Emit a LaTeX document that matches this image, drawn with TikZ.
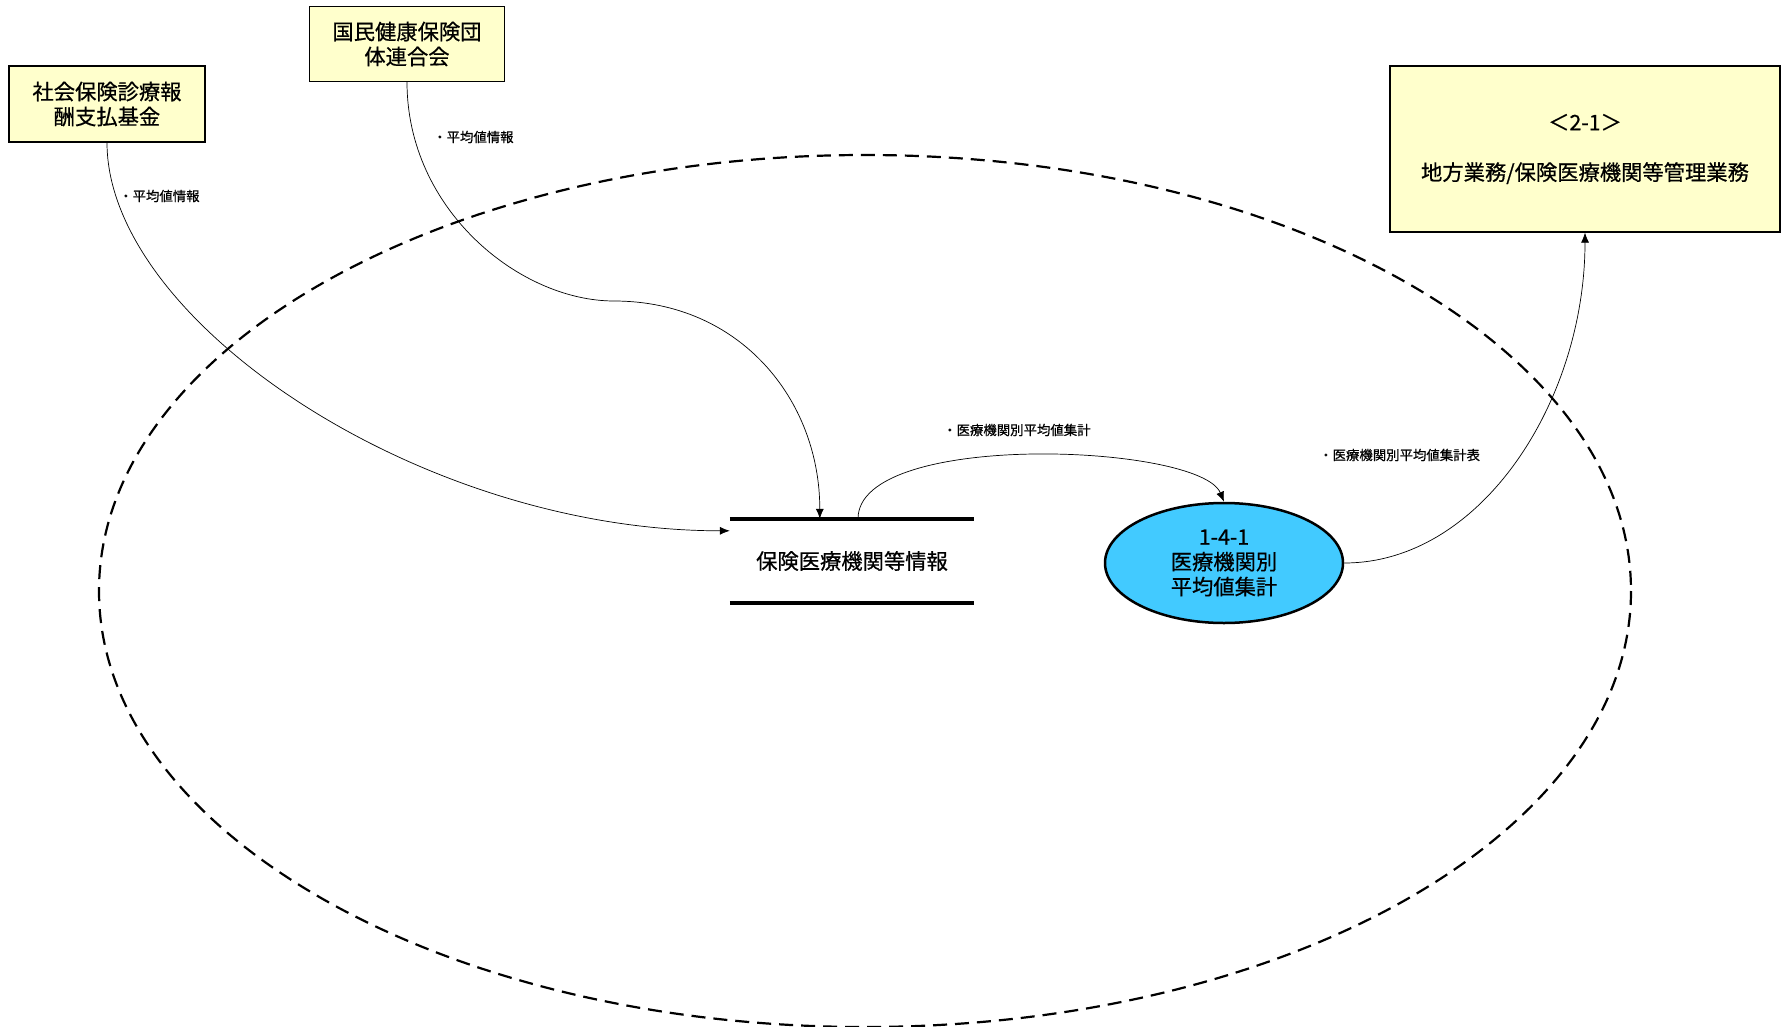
\documentclass[tikz,border=0pt]{standalone}
\usepackage{fontspec}
\setmainfont{Noto Sans CJK JP}[FakeBold=0.6]
\usepackage{tikz}
\usetikzlibrary{arrows.meta,shapes}

\definecolor{boxyellow}{RGB}{255,255,204}
\definecolor{proccyan}{RGB}{66,202,255}

\begin{document}
\begin{tikzpicture}[x=1pt,y=-1pt,
  ext/.style={rectangle,draw,line width=1.2pt,fill=boxyellow,align=center,font=\fontsize{21.3}{25}\selectfont},
  lbl/.style={anchor=west,inner sep=0pt,font=\fontsize{13.4}{15}\selectfont},
  flow/.style={-{Latex[length=10pt,width=8pt]},line width=0.7pt}]
\useasboundingbox (0,0) rectangle (1782,1027);
% system boundary
\draw[line width=2.2pt,dash pattern=on 14pt off 8pt] (865,591) ellipse [x radius=766,y radius=436];
% external entities
\node[ext,minimum width=196pt,minimum height=76pt] (e1) at (107,104) {社会保険診療報\\酬支払基金};
\node[ext,minimum width=195pt,minimum height=75pt] (e2) at (407,44) {国民健康保険団\\体連合会};
\node[ext,minimum width=390pt,minimum height=166pt] (e3) at (1585,149) {＜2-1＞\\[25pt]地方業務/保険医療機関等管理業務};
% data store
\node[rectangle,minimum width=244pt,minimum height=84pt,font=\fontsize{21.3}{25}\selectfont] (s1) at (852,561) {保険医療機関等情報};
\draw[line width=3.5pt] (s1.north west) -- (s1.north east);
\draw[line width=3.5pt] (s1.south west) -- (s1.south east);
% process
\node[ellipse,draw,line width=2.5pt,fill=proccyan,minimum width=238pt,minimum height=120pt,inner sep=0pt,align=center,font=\fontsize{21.3}{25}\selectfont] (p1) at (1224,563) {1-4-1\\医療機関別\\平均値集計};
% flows
\coordinate (m2) at (614,301);
\draw[flow] (e1.south) .. controls +(0,178) and +(-310,0) .. ([yshift=-12pt]s1.north west);
\draw[flow] (e2.south) .. controls +(0,128) and +(-94,0) .. (m2) .. controls +(126,0) and +(0,-119) .. ([xshift=90pt]s1.north west);
\draw[flow] ([xshift=6pt]s1.north) .. controls +(0,-89) and +(-24,-58) .. (p1.north);
\draw[flow] (p1.east) .. controls +(137,0) and +(0,168) .. (e3.south);
% flow labels
\node[lbl] (l1) at (119,196) {・平均値情報};
\node[lbl] (l2) at (433,137) {・平均値情報};
\node[lbl] (l3) at (943,430) {・医療機関別平均値集計};
\node[lbl] (l4) at (1319,455) {・医療機関別平均値集計表};
\end{tikzpicture}
\end{document}
